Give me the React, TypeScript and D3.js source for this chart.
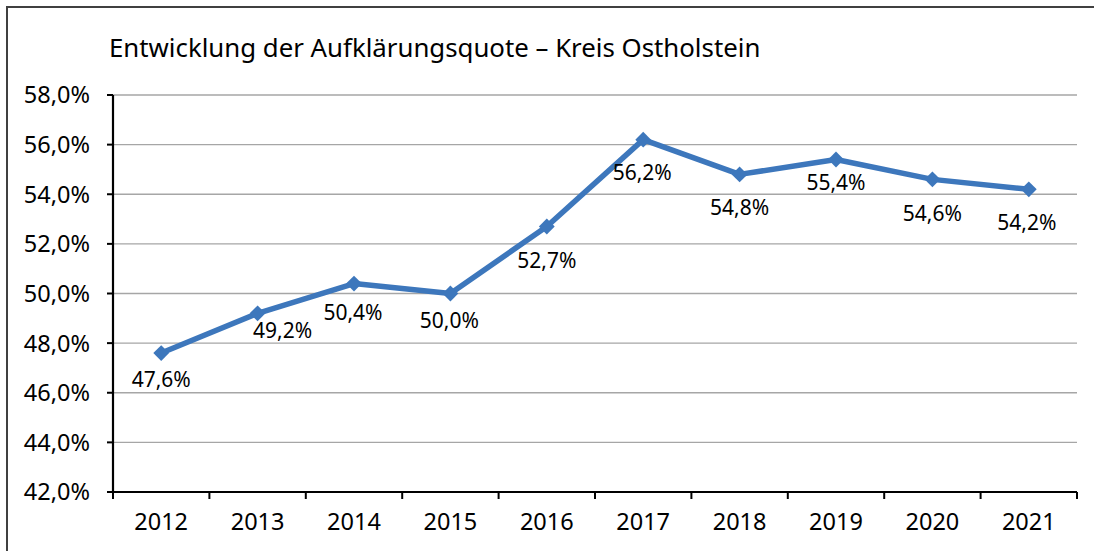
import * as d3 from "d3";

const years = ["2012", "2013", "2014", "2015", "2016", "2017", "2018", "2019", "2020", "2021"];
const quote = [47.6, 49.2, 50.4, 50.0, 52.7, 56.2, 54.8, 55.4, 54.6, 54.2];
const yTicks = [42, 44, 46, 48, 50, 52, 54, 56, 58];
// hand placed label nudges (dx, dy to baseline), like the original
const labelDx = [0, 25, -1, -1, 0, -1, 0, 0, 0, -2];
const labelDy = [34, 25, 36, 34, 41, 40, 41, 30, 42, 41];

const W = 1094;
const H = 551;
const font = "'Noto Sans', Lato, sans-serif";
const blue = "#3d77bc";

export default function App() {
  const x = d3.scaleBand<string>().domain(years).range([113, 1077]);
  const y = d3.scaleLinear().domain([42, 58]).range([492, 95]);
  const cx = (i: number) => (x(years[i]) as number) + x.bandwidth() / 2;

  const line = d3.line<number>()
    .x((_, i) => cx(i))
    .y(d => y(d));

  const diamond = d3.symbol().type(d3.symbolSquare).size(125)();
  const fmt = (v: number) => v.toFixed(1).replace(".", ",") + "%";

  const [x0, x1] = x.range();

  return (
    <svg width={W} height={H} style={{ position: "absolute", left: 0, top: 0, background: "#fff" }} fontFamily={font}>
      <rect x={7} y={7} width={W + 10} height={H + 10} fill="#fff" stroke="#404040" strokeWidth={2} />

      <text x={109} y={57} fontSize={25.8} fill="#000">
        Entwicklung der Aufklärungsquote – Kreis Ostholstein
      </text>

      {/* grid */}
      {yTicks.map(t => (
        <line key={"g" + t} x1={x0} x2={x1} y1={y(t)} y2={y(t)} stroke="#a6a6a6" strokeWidth={1.3} />
      ))}

      {/* y axis */}
      <line x1={x0} x2={x0} y1={y(58)} y2={y(42)} stroke="#000" strokeWidth={2.2} />
      {yTicks.map(t => (
        <g key={"y" + t}>
          <line x1={x0 - 6} x2={x0} y1={y(t)} y2={y(t)} stroke="#000" strokeWidth={2} />
          <text x={90} y={y(t)} dy="0.36em" textAnchor="end" fontSize={23.5} fill="#000">
            {fmt(t)}
          </text>
        </g>
      ))}

      {/* x axis */}
      <line x1={x0} x2={x1} y1={y(42)} y2={y(42)} stroke="#000" strokeWidth={2.2} />
      {[...years.map(yr => x(yr) as number), x1].map((p, i) => (
        <line key={"xt" + i} x1={p} x2={p} y1={y(42)} y2={y(42) + 7} stroke="#000" strokeWidth={2} />
      ))}
      {years.map((yr, i) => (
        <text key={"xl" + yr} x={cx(i)} y={530} textAnchor="middle" fontSize={23.5} fill="#000">
          {yr}
        </text>
      ))}

      {/* series */}
      <path d={line(quote) || ""} fill="none" stroke={blue} strokeWidth={5.5} strokeLinejoin="round" />
      {quote.map((v, i) => (
        <path key={"m" + i} d={diamond || ""} transform={`translate(${cx(i)},${y(v)}) rotate(45)`} fill={blue} />
      ))}
      {quote.map((v, i) => (
        <text key={"l" + i} x={cx(i) + labelDx[i]} y={y(v) + labelDy[i]} textAnchor="middle" fontSize={21} fill="#000">
          {fmt(v)}
        </text>
      ))}
    </svg>
  );
}
